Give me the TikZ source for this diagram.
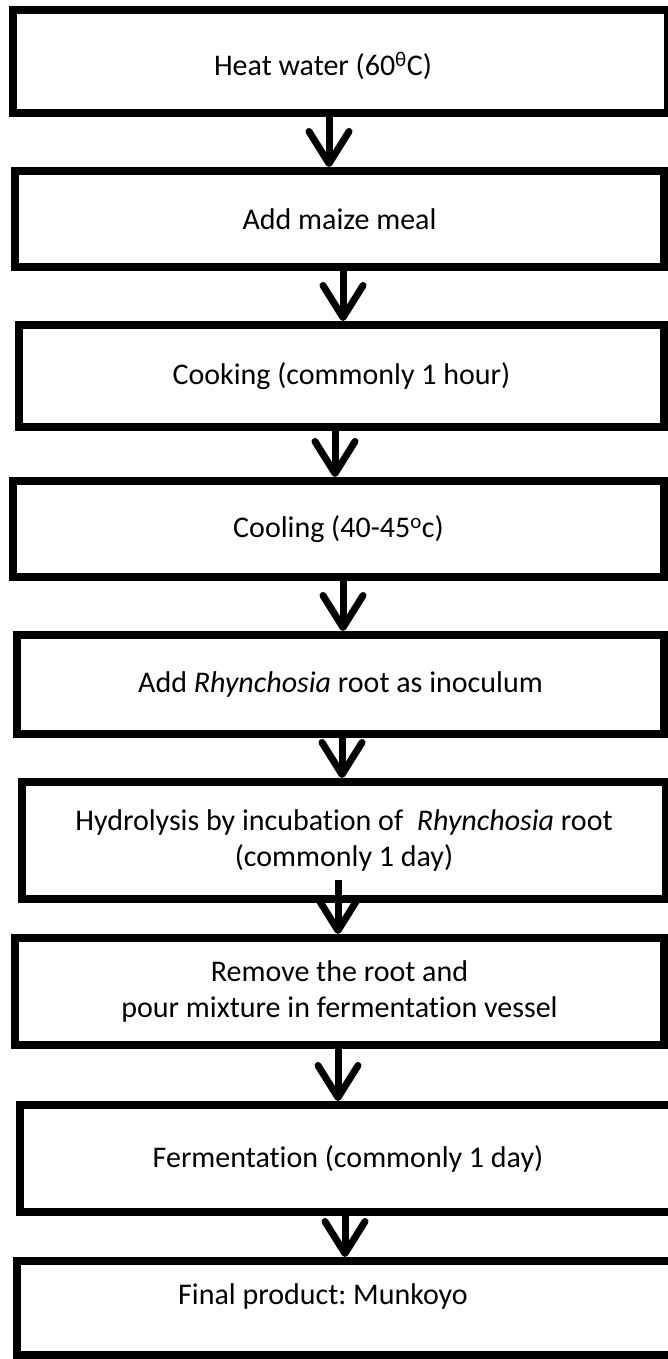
\documentclass[tikz,border=0pt]{standalone}
\usepackage{fontspec}
\setmainfont{Carlito}[Ligatures=NoCommon]
\usetikzlibrary{arrows.meta}
\frenchspacing

\begin{document}
\begin{tikzpicture}[x=1pt,y=-1pt,
    stepbox/.style={draw,line width=8pt,inner sep=0pt,align=center,
      font=\fontsize{30}{36}\selectfont},
    flow/.style={line width=7pt,-{Straight Barb[length=32pt,width=40pt,round]}}]
        \useasboundingbox (0,0) rectangle (668,1359);

        \node[stepbox,minimum width=655pt,minimum height=103pt,text height=33pt] (heat) at (340.5,61.5)
          {Heat water (60\textsuperscript{θ}C)\hspace*{35pt}};
        \node[stepbox,minimum width=649pt,minimum height=96pt] (maize) at (339.5,219)
          {Add maize meal};
        \node[stepbox,minimum width=645pt,minimum height=102pt] (cook) at (341.5,376)
          {Cooking (commonly 1 hour)};
        \node[stepbox,minimum width=651pt,minimum height=96pt] (cool) at (338.5,529)
          {Cooling (40-45\textsuperscript{o}c)};
        \node[stepbox,minimum width=647pt,minimum height=99pt] (inoc) at (340.5,684.5)
          {Add \textit{Rhynchosia} root as inoculum};
        \node[stepbox,minimum width=644pt,minimum height=117pt] (hydro) at (344,840.5)
          {Hydrolysis by incubation of\ \ \textit{Rhynchosia} root\\(commonly 1 day)};
        \node[stepbox,minimum width=649pt,minimum height=107pt] (vessel) at (339.5,991.5)
          {Remove the root and\\pour mixture in fermentation vessel};
        \node[stepbox,minimum width=656pt,minimum height=107pt] (ferm) at (348,1158.5)
          {Fermentation (commonly 1 day)};
        \node[stepbox,minimum width=659pt,minimum height=94pt,text depth=27pt] (munk) at (346.5,1308)
          {Final product: Munkoyo\hspace*{47pt}};

        \draw[flow] ([xshift=-11.5pt]heat.south) -- ([xshift=-10.5pt]maize.north);
        \draw[flow] ([xshift=3.5pt]maize.south) -- ([xshift=1.5pt]cook.north);
        \draw[flow] ([xshift=-6.5pt]cook.south) -- ([xshift=-3.5pt]cool.north);
        \draw[flow] ([xshift=4.5pt]cool.south) -- ([xshift=2.5pt]inoc.north);
        \draw[flow] ([xshift=1.5pt]inoc.south) -- ([xshift=-2pt]hydro.north);
        \draw[flow] ([xshift=-6pt,yshift=23pt]hydro.south) -- ([xshift=-1.5pt]vessel.north);
        \draw[flow] ([xshift=-1.5pt]vessel.south) -- ([xshift=-10pt]ferm.north);
        \draw[flow] ([xshift=-3pt]ferm.south) -- ([xshift=-1.5pt]munk.north);
\end{tikzpicture}
\end{document}
